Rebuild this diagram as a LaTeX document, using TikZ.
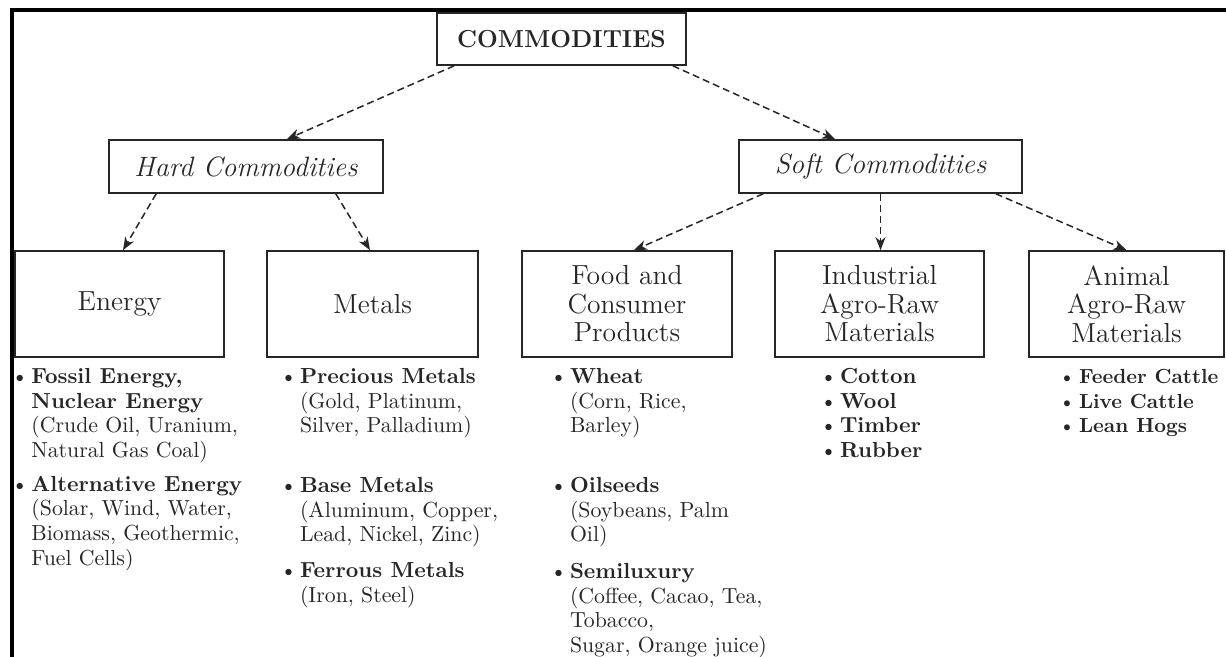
\documentclass[tikz,border=0pt]{standalone}
\usepackage{tikz}
\usetikzlibrary{arrows.meta}

\newcommand{\bulletmark}{\makebox[10pt][l]{\textbullet}}
\newcommand{\itemind}{\hspace*{10pt}}

\begin{document}
\begin{tikzpicture}[x=0.5pt, y=-0.5pt,
		box/.style={draw=black!85, line width=0.8pt, inner sep=0pt, text=black!85, align=center},
		topbox/.style={box, minimum width=124.5pt, minimum height=26pt, font=\bfseries\fontsize{12.3}{14}\selectfont},
		midbox/.style={box, minimum height=26.5pt, font=\itshape\fontsize{14}{16}\selectfont},
		catbox/.style={box, minimum width=104.5pt, minimum height=53pt, font=\fontsize{13.8}{14.25}\selectfont},
		link/.style={draw=black!85, line width=0.75pt, dash pattern=on 3.5pt off 2pt, -{Stealth[length=6.5pt, width=5pt, inset=2pt]}},
		items/.style={anchor=north west, inner sep=0pt, align=left, text=black!85, font=\fontsize{10.9}{12.3}\selectfont}]
				\useasboundingbox (0,0) rectangle (1226,657);
				\fill[white] (0,0) rectangle (1226,657);
				\draw[line width=2pt] (12,657)--(12,10)--(1226,10);
				
				\node[topbox] (top) at (561.5,39) {COMMODITIES};
				\node[midbox, minimum width=137pt] (hard) at (246,166.5) {Hard Commodities};
				\node[midbox, minimum width=141.5pt] (soft) at (880.5,166.5) {Soft Commodities};
				
				\node[catbox] (energy) at (119.5,304) {Energy};
				\node[catbox, minimum width=105.5pt] (metals) at (372.5,304) {Metals};
				\node[catbox, minimum width=105pt] (food) at (627,304) {Food and\\Consumer\\Products};
				\node[catbox] (indus) at (879.5,304) {Industrial\\Agro-Raw\\Materials};
				\node[catbox, minimum width=97.5pt] (animal) at (1126.5,304) {Animal\\Agro-Raw\\Materials};
				
				\draw[link] ([xshift=9pt]top.south west)--([xshift=20.5pt]hard.north);
				\draw[link] ([xshift=-7pt]top.south east)--([xshift=-22.75pt]soft.north);
				\draw[link] ([xshift=24pt]hard.south west)--([xshift=1.75pt]energy.north);
				\draw[link] ([xshift=-24pt]hard.south east)--([xshift=-1.25pt]metals.north);
				\draw[link] ([xshift=12.5pt]soft.south west)--([xshift=3.5pt]food.north);
				\draw[link] (soft.south)--(soft.south |- indus.north);
				\draw[link] ([xshift=-13.5pt]soft.south east)--(animal.north);
				
				\node[items] (enlist) at (11,365.85) {\bulletmark\textbf{Fossil Energy,}\strut\\
					\itemind\textbf{Nuclear Energy}\\
					\itemind(Crude Oil, Uranium,\\
					\itemind Natural Gas Coal)\\[4.7pt]
					\bulletmark\textbf{Alternative Energy}\\
					\itemind(Solar, Wind, Water,\\
					\itemind Biomass, Geothermic,\\
					\itemind Fuel Cells)};
				\node[items] (metlist) at (279.6,365.85) {\bulletmark\textbf{Precious Metals}\strut\\
					\itemind(Gold, Platinum,\\
					\itemind Silver, Palladium)\\[17.7pt]
					\bulletmark\textbf{Base Metals}\\
					\itemind(Aluminum, Copper,\\
					\itemind Lead, Nickel, Zinc)\\[5.7pt]
					\bulletmark\textbf{Ferrous Metals}\\
					\itemind(Iron, Steel)};
				\node[items] (foodlist) at (549.6,365.85) {\bulletmark\textbf{Wheat}\strut\\
					\itemind(Corn, Rice,\\
					\itemind Barley)\\[17.7pt]
					\bulletmark\textbf{Oilseeds}\\
					\itemind(Soybeans, Palm\\
					\itemind Oil)\\[6pt]
					\bulletmark\textbf{Semiluxury}\\
					\itemind(Coffee, Cacao, Tea,\\
					\itemind Tobacco,\\
					\itemind Sugar, Orange juice)};
				\node[items] (induslist) at (819.6,365.85) {\bulletmark\textbf{Cotton}\strut\\
					\bulletmark\textbf{Wool}\\
					\bulletmark\textbf{Timber}\\
					\bulletmark\textbf{Rubber}};
				\node[items, font=\fontsize{10.2}{12.3}\selectfont] (animallist) at (1058.6,365.85) {\bulletmark\textbf{Feeder Cattle}\strut\\
					\bulletmark\textbf{Live Cattle}\\
					\bulletmark\textbf{Lean Hogs}};
			\end{tikzpicture}
\end{document}
